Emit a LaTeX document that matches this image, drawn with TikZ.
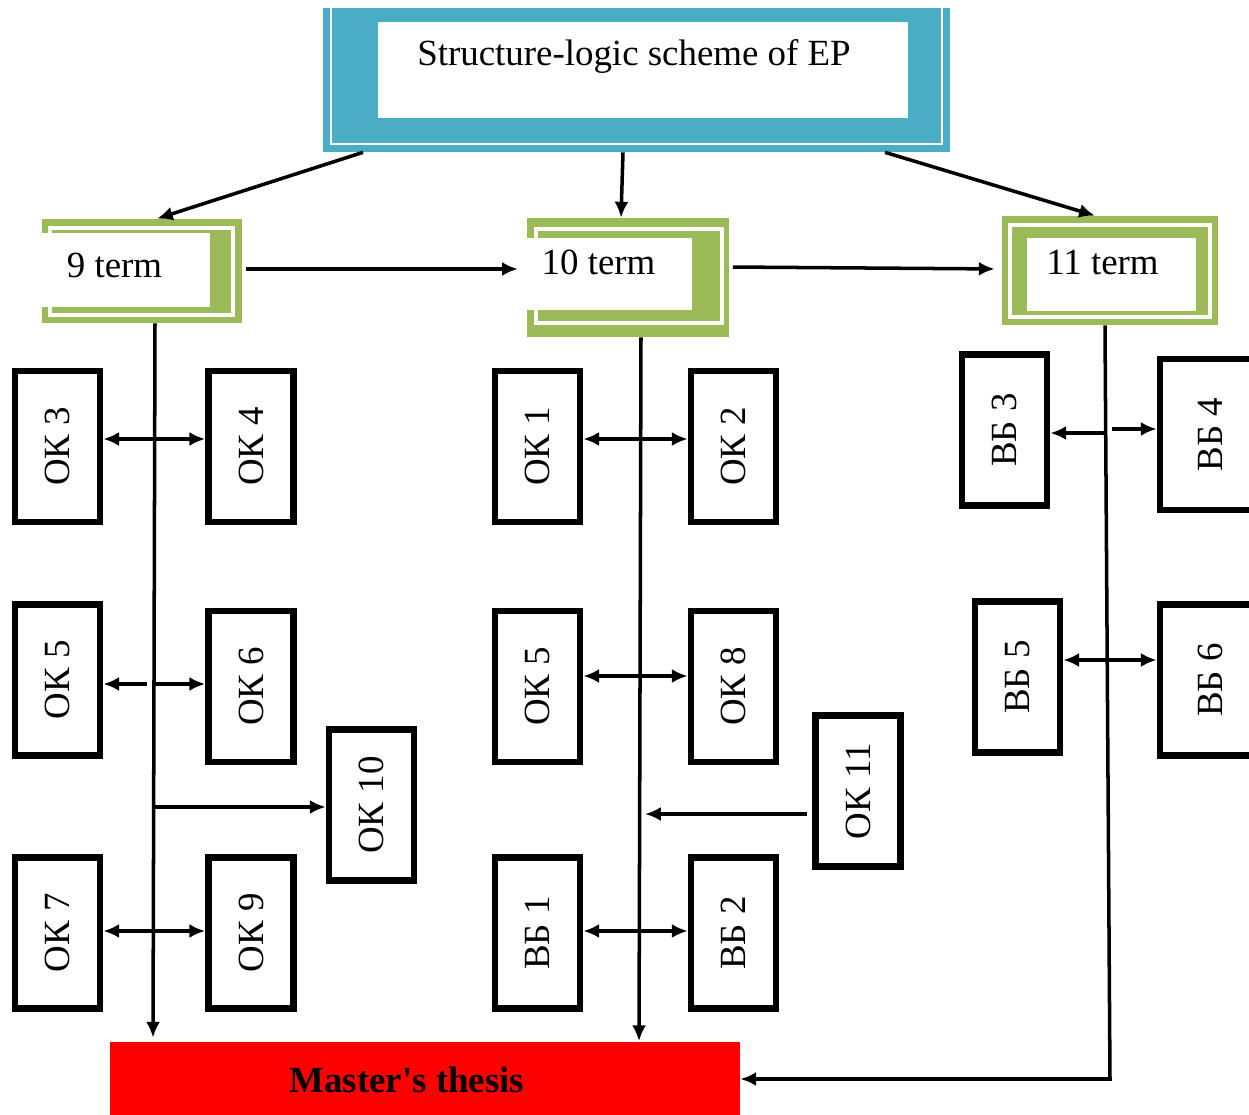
\documentclass[tikz,border=0pt]{standalone}
\usepackage{fontspec}
\setmainfont{Liberation Serif}
\usetikzlibrary{arrows.meta,calc}
\definecolor{hdrteal}{HTML}{4BACC6}
\definecolor{termgreen}{HTML}{9BBB59}
\newcommand{\vtxt}[1]{\rotatebox{90}{#1}}
\begin{document}
\begin{tikzpicture}[x=0.02cm,y=-0.02cm,
  txt/.style={font=\fontsize{21}{25}\selectfont, inner sep=0pt},
  okbox/.style={draw, line width=3.8pt, fill=white, minimum width=1.7cm, minimum height=3.02cm, inner sep=0pt, font=\fontsize{21}{25}\selectfont},
  cutbox/.style={okbox, minimum width=2cm, inner xsep=0pt},
  greenbox/.style={fill=termgreen, inner sep=0pt},
  conn/.style={line width=2pt},
  arr/.style={conn, -{Latex[length=9pt,width=8pt]}},
  darr/.style={conn, {Latex[length=9pt,width=8pt]}-{Latex[length=9pt,width=8pt]}}]
\useasboundingbox (0,0) rectangle (1249,1115);

% header
\node[fill=hdrteal, minimum width=12.54cm, minimum height=2.88cm, inner sep=0pt] (hdr) at (636.5,80) {};
\draw[white, line width=1.2pt] (331,8) -- (331,144) -- (942,144) -- (942,8);
\fill[white] (378,22) rectangle (908,118);
\node[txt, anchor=base] (hdrtext) at (634,66) {Structure-logic scheme of EP};

% term boxes
\node[greenbox, minimum width=4cm, minimum height=2.08cm] (t9) at (142,271) {};
\draw[white, line width=2pt] (50,228) rectangle (233,315);
\fill[white] (42,233) rectangle (210,307);
\node[txt, anchor=base] (t9text) at (114.5,277) {9 term};

\node[greenbox, minimum width=4.04cm, minimum height=2.38cm] (t10) at (628,277.5) {};
\draw[white, line width=2pt] (536,229) rectangle (722,323);
\fill[white] (527,238) rectangle (692,310);
\node[txt, anchor=base] (t10text) at (598.5,275) {10 term};

\node[greenbox, minimum width=4.32cm, minimum height=2.18cm] (t11) at (1110,270.5) {};
\draw[white, line width=2pt] (1010,225) rectangle (1210,317);
\fill[white] (1027,238) rectangle (1196,311);
\node[txt, anchor=base] (t11text) at (1102.5,275) {11 term};

% master's thesis
\node[fill=red, minimum width=12.6cm, minimum height=1.5cm, inner sep=0pt] (master) at (425,1079) {};
\node[font=\bfseries\fontsize{21}{25}\selectfont, inner sep=0pt, anchor=base] (mtext) at (407,1092) {Master\textquotesingle s thesis};

% component boxes
\node[okbox] (ok3) at (57.5,446.5) {\vtxt{ОК 3}};
\node[okbox] (ok4) at (251,446.5) {\vtxt{ОК 4}};
\node[okbox] (ok5a) at (57.5,680) {\vtxt{ОК 5}};
\node[okbox] (ok6) at (251,686.5) {\vtxt{ОК 6}};
\node[okbox] (ok10) at (371.5,805) {\vtxt{ОК 10}};
\node[okbox] (ok7) at (57.5,933) {\vtxt{ОК 7}};
\node[okbox] (ok9) at (251,933) {\vtxt{ОК 9}};
\node[okbox] (ok1) at (537.5,446.5) {\vtxt{ОК 1}};
\node[okbox] (ok2) at (733.5,446.5) {\vtxt{ОК 2}};
\node[okbox] (ok5b) at (537.5,686.5) {\vtxt{ОК 5}};
\node[okbox] (ok8) at (733.5,686.5) {\vtxt{ОК 8}};
\node[okbox] (ok11) at (858,791) {\vtxt{ОК 11}};
\node[okbox] (vb1) at (537.5,933) {\vtxt{ВБ 1}};
\node[okbox] (vb2) at (733.5,933) {\vtxt{ВБ 2}};
\node[okbox] (vb3) at (1004.5,430) {\vtxt{ВБ 3}};
\node[cutbox] (vb4) at (1210,434.5) {\vtxt{ВБ 4}\hspace{0.14cm}};
\node[okbox] (vb5) at (1017.5,677) {\vtxt{ВБ 5}};
\node[cutbox] (vb6) at (1210,680) {\vtxt{ВБ 6}\hspace{0.14cm}};

% header to terms
\draw[arr] (hdr.south -| 363,0) -- (t9.north -| 157,0);
\draw[arr] (hdr.south -| 623,0) -- (t10.north -| 621,0);
\draw[arr] (hdr.south -| 885,0) -- (t11.north -| 1095,0);

% term to term
\draw[arr, shorten <=2pt, shorten >=5pt] (t9.east |- 0,269) -- (t10.west |- 0,269);
\draw[arr, shorten <=2pt, shorten >=4pt] (t10.east |- 0,267) -- (t11.west |- 0,269);

% vertical trunks
\draw[arr, shorten >=2pt] (t9.south -| 155,0) -- (master.north -| 153,0);
\draw[arr] (t10.south -| 641,0) -- (master.north -| 639,0);
\coordinate (c11) at (1110,1079);
\draw[arr] (t11.south -| 1105,0) -- (c11) -- (master.east |- c11);

% branches
\draw[darr] (ok3.east |- 0,439) -- (ok4.west |- 0,439);
\coordinate (j5a) at (147,684);
\coordinate (j6) at (155,684);
\draw[arr] (j5a) -- (ok5a.east |- j5a);
\draw[arr] (j6) -- (ok6.west |- j6);
\coordinate (j10) at (155,807);
\draw[arr] (j10) -- (ok10.west |- j10);
\draw[darr] (ok7.east |- 0,931) -- (ok9.west |- 0,931);

\draw[darr] (ok1.east |- 0,439) -- (ok2.west |- 0,439);
\draw[darr] (ok5b.east |- 0,676) -- (ok8.west |- 0,676);
\coordinate (j11) at (645,814);
\draw[arr, shorten <=3pt] (ok11.west |- j11) -- (j11);
\draw[darr] (vb1.east |- 0,931) -- (vb2.west |- 0,931);

\coordinate (jb3) at (1105,433);
\coordinate (jb4) at (1112,429);
\draw[arr] (jb3) -- (vb3.east |- jb3);
\draw[arr] (jb4) -- (vb4.west |- jb4);
\draw[darr] (vb5.east |- 0,660) -- (vb6.west |- 0,660);
\end{tikzpicture}
\end{document}
